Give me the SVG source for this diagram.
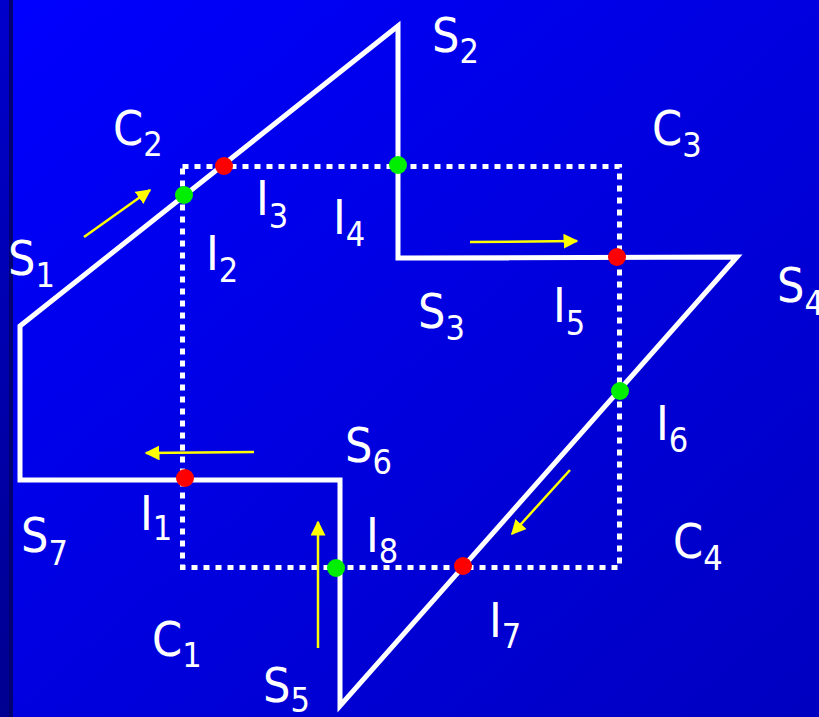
<svg xmlns="http://www.w3.org/2000/svg" width="819" height="717" viewBox="0 0 819 717">
<defs>
<linearGradient id="bg" x1="0" y1="0" x2="1" y2="1">
<stop offset="0" stop-color="#0000ff"/>
<stop offset="1" stop-color="#0000c0"/>
</linearGradient>
<linearGradient id="strip" x1="0" y1="0" x2="0" y2="1">
<stop offset="0" stop-color="#0000cc"/>
<stop offset="1" stop-color="#000090"/>
</linearGradient>
<marker id="ah" viewBox="0 0 10 10" refX="9" refY="5" markerWidth="6" markerHeight="6" markerUnits="strokeWidth" orient="auto">
<path d="M0,0 L10,5 L0,10 Z" fill="#ffff00"/>
</marker>
<style>
.lbl{font-family:"DejaVu Sans Condensed","DejaVu Sans",sans-serif;font-size:48px;fill:#ffffff}
.sub{font-size:34px}
.poly{fill:none;stroke:#ffffff;stroke-width:5;stroke-linejoin:miter}
.clip{fill:none;stroke:#ffffff;stroke-width:5;stroke-dasharray:6 6}
.arr{stroke:#ffff00;stroke-width:2.5;marker-end:url(#ah)}
.g{fill:#00ee00}
.r{fill:#ff0000}
</style>
</defs>
<rect x="0" y="0" width="819" height="717" fill="url(#bg)"/>
<rect x="0" y="0" width="9" height="717" fill="url(#strip)"/>
<rect x="9" y="0" width="4" height="717" fill="#000070"/>

<g id="clip-window">
<rect class="clip" x="182.5" y="166.5" width="437" height="401"/>
</g>

<g id="polygon">
<path class="poly" d="M20,326 L398,26 L398,258 L737,257 L340,706 L340,480 L20,480 Z"/>
</g>

<g id="connectors">
<line class="arr" x1="84" y1="237" x2="150" y2="190"/>
<line class="arr" x1="470" y1="242" x2="577" y2="241"/>
<line class="arr" x1="254" y1="452" x2="146" y2="453"/>
<line class="arr" x1="318" y1="648" x2="318" y2="522"/>
<line class="arr" x1="570" y1="470" x2="512" y2="534"/>
</g>

<g id="points">
<circle class="g" cx="184" cy="195" r="9"/>
<circle class="r" cx="224" cy="166" r="9"/>
<circle class="g" cx="398" cy="165" r="9"/>
<circle class="r" cx="617" cy="257" r="9"/>
<circle class="g" cx="620" cy="391" r="9"/>
<circle class="r" cx="463" cy="566" r="9"/>
<circle class="g" cx="336" cy="568" r="9"/>
<circle class="r" cx="185" cy="478" r="9"/>
</g>

<g id="labels">
<text class="lbl" x="432" y="52">S<tspan class="sub" dy="11">2</tspan></text>
<text class="lbl" x="113" y="145">C<tspan class="sub" dy="11">2</tspan></text>
<text class="lbl" x="652" y="145">C<tspan class="sub" dy="12">3</tspan></text>
<text class="lbl" x="8" y="275">S<tspan class="sub" dy="12">1</tspan></text>
<text class="lbl" x="256" y="215">I<tspan class="sub" dy="13">3</tspan></text>
<text class="lbl" x="333" y="234">I<tspan class="sub" dy="12">4</tspan></text>
<text class="lbl" x="206" y="270">I<tspan class="sub" dy="12">2</tspan></text>
<text class="lbl" x="418" y="328">S<tspan class="sub" dy="12">3</tspan></text>
<text class="lbl" x="553" y="322">I<tspan class="sub" dy="13">5</tspan></text>
<text class="lbl" x="777" y="302">S<tspan class="sub" dy="13">4</tspan></text>
<text class="lbl" x="656" y="440">I<tspan class="sub" dy="12">6</tspan></text>
<text class="lbl" x="345" y="462">S<tspan class="sub" dy="12">6</tspan></text>
<text class="lbl" x="21" y="552">S<tspan class="sub" dy="13">7</tspan></text>
<text class="lbl" x="140" y="530">I<tspan class="sub" dy="10">1</tspan></text>
<text class="lbl" x="366" y="552">I<tspan class="sub" dy="11">8</tspan></text>
<text class="lbl" x="673" y="558">C<tspan class="sub" dy="12">4</tspan></text>
<text class="lbl" x="489" y="637">I<tspan class="sub" dy="11">7</tspan></text>
<text class="lbl" x="152" y="656">C<tspan class="sub" dy="11">1</tspan></text>
<text class="lbl" x="263" y="702">S<tspan class="sub" dy="10">5</tspan></text>
</g>
</svg>
